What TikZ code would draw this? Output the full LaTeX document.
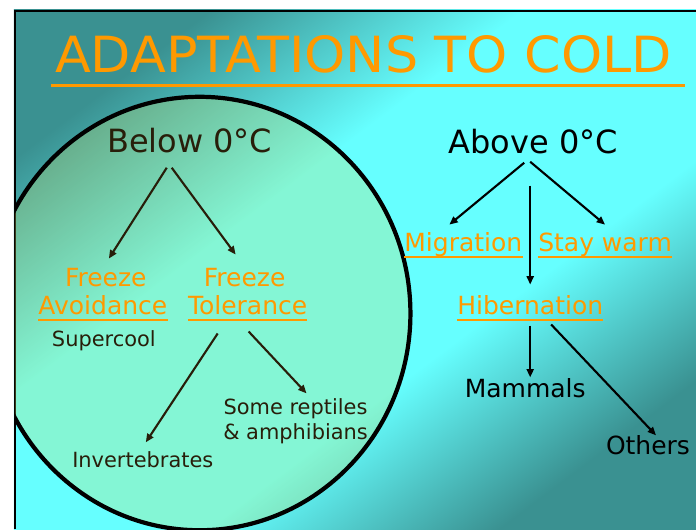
\documentclass[tikz,border=0pt]{standalone}
\usepackage{fontspec}
\setmainfont{DejaVu Sans}
\newfontfamily\titlefont[FakeStretch=1.05]{DejaVu Sans}
\usepackage{tikz}
\usetikzlibrary{positioning,arrows.meta,calc}
\usepackage{xcolor}
\definecolor{slideteal}{RGB}{58,145,145}
\definecolor{slidecyan}{RGB}{102,255,255}
\definecolor{titleorange}{RGB}{255,153,0}
\definecolor{circlefill}{RGB}{215,225,100}
\definecolor{inkbrown}{RGB}{40,30,10}
\pgfdeclarehorizontalshading{slidebg}{100bp}{color(0bp)=(slideteal); color(25bp)=(slideteal); color(41bp)=(slidecyan); color(60bp)=(slidecyan); color(75bp)=(slideteal); color(100bp)=(slideteal)}

\begin{document}
\begin{tikzpicture}[
  x=0.025cm, y=-0.025cm,
  every node/.style={inner sep=0pt, anchor=base},
  title/.style={font=\titlefont\fontsize{35.5}{40}\selectfont, text=titleorange},
  head/.style={font=\fontsize{22.8}{27}\selectfont},
  topic/.style={font=\fontsize{17.8}{21}\selectfont, text=titleorange},
  item/.style={font=\fontsize{17.8}{21}\selectfont},
  small/.style={font=\fontsize{14.9}{18}\selectfont},
  uline/.style={draw=titleorange, line width=1.4pt},
  arr/.style={-{Triangle[length=6pt,width=5pt]}, line width=1.5pt},
]

% slide background
\fill[white] (0,0) rectangle (697,530);
\shade[shading=slidebg, shading angle=-53] (14,10) rectangle (697,530);
\draw[line width=1.5pt] (15,530) -- (15,11) -- (697,11);

% the circle
\begin{scope}
\clip (15,11) rectangle (697,530);
\fill[circlefill, opacity=0.27] (200,314) ellipse [x radius=5.275cm, y radius=5.425cm];
\draw[line width=3pt] (200,314) ellipse [x radius=5.275cm, y radius=5.425cm];
\end{scope}

% title
\node[title] at (364,73) (title) {ADAPTATIONS TO COLD};
\draw[uline, line width=2.1pt] ($(title.base west)+(-4,13)$) -- ($(title.base east)+(13,13)$);

% below zero
\node[head, text=inkbrown] at (190,153) (below)   {Below 0°C};
\node[topic] at (106,287) (freezeA) {Freeze};
\node[topic] at (103,315) (avoid)   {Avoidance};
\node[topic] at (245,287) (freezeT) {Freeze};
\node[topic] at (248,315) (toler)   {Tolerance};
\node[small, text=inkbrown] at (104,347) (supercool) {Supercool};
\node[small, text=inkbrown] at (296,415) (rept1)  {Some reptiles};
\node[small, text=inkbrown] at (296,440) (rept2)  {\& amphibians};
\node[small, text=inkbrown] at (143,468) (invert) {Invertebrates};

% above zero
\node[head]  at (534,154) (above)  {Above 0°C};
\node[topic] at (464,252) (mig)    {Migration};
\node[topic] at (606,252) (stay)   {Stay warm};
\node[topic] at (531,315) (hib)    {Hibernation};
\node[item]  at (526,398) (mamm)   {Mammals};
\node[item]  at (649,455) (others) {Others};

\foreach \n in {avoid,toler,mig,stay,hib}
  \draw[uline] ($(\n.base west)+(0,5)$) -- ($(\n.base east)+(0,5)$);

\draw[arr, inkbrown] ($(below.base)+(-23,15)$) -- ($(freezeA.base)+(3,-28)$);
\draw[arr, inkbrown] ($(below.base)+(-18,15)$) -- ($(freezeT.base)+(-9,-32)$);
\draw[arr, inkbrown] ($(toler.base)+(-30,19)$) -- ($(invert.base)+(3,-25)$);
\draw[arr, inkbrown] ($(toler.base)+(1,17)$)   -- ($(rept1.base)+(11,-21)$);
\draw[arr] ($(above.base)+(-9,9)$)  -- ($(mig.base)+(-14,-27)$);
\draw[arr] ($(above.base)+(-3,8)$)  -- ($(stay.base)+(0,-27)$);
\draw[arr] ($(above.base)+(-3,32)$) -- ($(hib.base)+(0,-30)$);
\draw[arr] ($(hib.base)+(0,11)$)    -- ($(mamm.base)+(5,-20)$);
\draw[arr] ($(hib.base)+(21,10)$)   -- ($(others.base)+(8,-19)$);
\end{tikzpicture}
\end{document}
